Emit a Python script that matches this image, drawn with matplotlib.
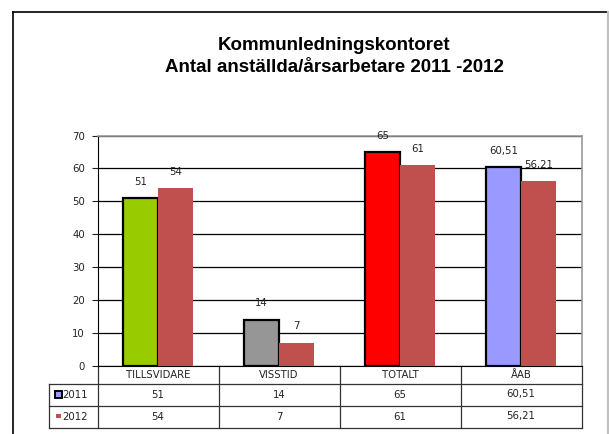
import matplotlib.pyplot as plt
from matplotlib.lines import Line2D
from matplotlib.patches import Rectangle

plt.rcParams['font.family'] = ['DejaVu Sans']

categories = ['TILLSVIDARE', 'VISSTID', 'TOTALT', 'ÅAB']
years = ['2011', '2012']
vals_2011 = [51, 14, 65, 60.51]
vals_2012 = [54, 7, 61, 56.21]
colors_2011 = ['#99CC00', '#969696', '#FF0000', '#9999FF']
color_2012 = '#C0504D'
title = 'Kommunledningskontoret\nAntal anställda/årsarbetare 2011 -2012'


def fmt(v):
    if float(v).is_integer():
        return str(int(v))
    return ('%.2f' % v).replace('.', ',')


W, H = 609, 434
fs = 7.3
tc = '#222222'
fig = plt.figure(figsize=(W / 100, H / 100), dpi=100)

# outer frame
fig.add_artist(Line2D([12.5 / W, 12.5 / W], [0, 1 - 11.5 / H], color='black', lw=1.2))
fig.add_artist(Line2D([12.5 / W, 607 / W], [1 - 11.5 / H, 1 - 11.5 / H], color='black', lw=1.2))
fig.add_artist(Line2D([607.5 / W, 607.5 / W], [0, 1 - 11.5 / H], color='#c0c0c0', lw=1.6))

fig.text(334 / W, 1 - 56.5 / H, title, ha='center', va='center', fontsize=13.5,
         fontweight='bold', linespacing=1.35, family='Liberation Sans')

ax = fig.add_axes([97.5 / W, 1 - 365.5 / H, 484 / W, 230 / H])
bw = 0.29
x = range(len(categories))
for i in x:
    ax.bar(i - bw / 2, vals_2011[i], bw, color=colors_2011[i],
           edgecolor='black', linewidth=1.6, zorder=3)
    ax.bar(i + bw / 2, vals_2012[i], bw, color=color_2012,
           edgecolor='none', zorder=3)
    ax.annotate(fmt(vals_2011[i]), (i - bw / 2, vals_2011[i]), xytext=(0, 8),
                textcoords='offset points', ha='center', va='bottom', fontsize=fs,
                color=tc, annotation_clip=False)
    ax.annotate(fmt(vals_2012[i]), (i + bw / 2, vals_2012[i]), xytext=(0, 8),
                textcoords='offset points', ha='center', va='bottom', fontsize=fs,
                color=tc, annotation_clip=False)

ax.set_xlim(-0.5, len(categories) - 0.5)
ax.set_ylim(0, 70)
ax.set_yticks(range(0, 71, 10))
ax.set_xticks([])
ax.yaxis.grid(True, color='black', lw=0.9)
ax.set_axisbelow(True)
ax.tick_params(axis='y', direction='out', length=4, width=0.8, labelsize=fs,
               pad=5, colors=tc)
for s in ['top', 'right']:
    ax.spines[s].set_color('#999999')
    ax.spines[s].set_linewidth(1.2)
ax.spines['left'].set_color('black')
ax.spines['bottom'].set_color('black')

# data table under the chart
hh = 18 / 230
rh = 22 / 230
lc = -48.5 / 484
tr = ax.transAxes
lcol = '#333333'
y1 = -hh
y2 = -hh - rh
y3 = -hh - 2 * rh
for yy in [y1, y2, y3]:
    ax.add_line(Line2D([lc, 1], [yy, yy], transform=tr, color=lcol, lw=0.9, clip_on=False))
ax.add_line(Line2D([lc, lc], [y1, y3], transform=tr, color=lcol, lw=0.9, clip_on=False))
for k in range(len(categories) + 1):
    xx = k / len(categories)
    ax.add_line(Line2D([xx, xx], [0, y3], transform=tr, color=lcol, lw=0.9, clip_on=False))

for k, cat in enumerate(categories):
    xc = (k + 0.5) / len(categories)
    ax.text(xc, -hh / 2, cat, transform=tr, ha='center', va='center', fontsize=fs, color=tc)
    ax.text(xc, y1 - rh / 2, fmt(vals_2011[k]), transform=tr, ha='center', va='center',
            fontsize=fs, color=tc)
    ax.text(xc, y2 - rh / 2, fmt(vals_2012[k]), transform=tr, ha='center', va='center',
            fontsize=fs, color=tc)

# legend keys in the row labels
ax.add_patch(Rectangle((-42.5 / 484, y1 - rh / 2 - 3.5 / 230), 6.5 / 484, 7 / 230, transform=tr,
                       facecolor=colors_2011[-1], edgecolor='black', lw=1.4, clip_on=False))
ax.add_patch(Rectangle((-41.5 / 484, y2 - rh / 2 - 1.5 / 230), 4.5 / 484, 4.5 / 230, transform=tr,
                       facecolor=color_2012, edgecolor='none', clip_on=False))
ax.text(-35 / 484, y1 - rh / 2, years[0], transform=tr, ha='left', va='center', fontsize=fs,
        color=tc)
ax.text(-35 / 484, y2 - rh / 2, years[1], transform=tr, ha='left', va='center', fontsize=fs,
        color=tc)

fig.savefig('out.png', dpi=100)
